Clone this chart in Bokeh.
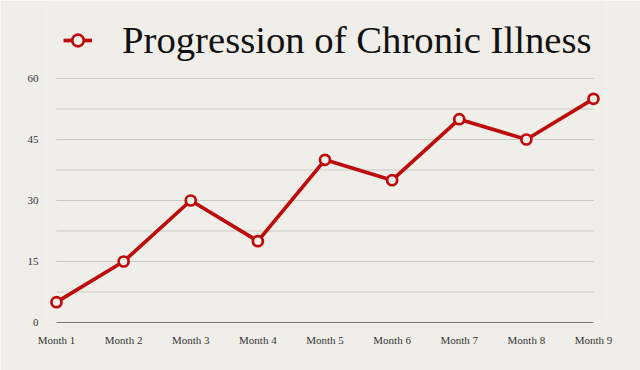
from bokeh.plotting import figure
from bokeh.models import ColumnDataSource, Range1d, FixedTicker, Legend, LegendItem
from bokeh.embed import file_html
from bokeh.resources import INLINE

months = ["Month 1", "Month 2", "Month 3", "Month 4", "Month 5",
          "Month 6", "Month 7", "Month 8", "Month 9"]
values = [5, 15, 30, 20, 40, 35, 50, 45, 55]
y_ticks = [0, 15, 30, 45, 60]
grid_levels = [0, 7.5, 15, 22.5, 30, 37.5, 45, 52.5, 60]
title_text = "Progression of Chronic Illness"

BG = "#f0eee9"
RED = "#bd0c0c"
SERIF = "Liberation Serif"

xs = list(range(1, len(months) + 1))
src = ColumnDataSource(dict(x=xs, y=values))

# frame covers the title area too, so the legend/title is drawn inside it
p = figure(width=640, height=370,
           x_range=Range1d(0.851, 9.194), y_range=Range1d(0, 79.18),
           output_backend="svg", toolbar_location=None,
           min_border_left=46, min_border_right=34, min_border_top=0, min_border_bottom=48)
p.background_fill_color = BG
p.border_fill_color = BG
p.outline_line_color = None
p.xgrid.visible = False
p.ygrid.visible = False

gsrc = ColumnDataSource(dict(x0=[xs[0]] * len(grid_levels), x1=[xs[-1]] * len(grid_levels),
                             y=grid_levels))
p.segment(x0="x0", x1="x1", y0="y", y1="y", source=gsrc, line_color="#cbc9c4", line_width=1)

line_r = p.line("x", "y", source=src, line_color=RED, line_width=3.7)
sc_r = p.scatter("x", "y", source=src, size=10, fill_color=BG, line_color=RED, line_width=2.7)

xa = p.xaxis[0]
xa.ticker = FixedTicker(ticks=xs)
xa.major_label_overrides = {x: m for x, m in zip(xs, months)}
xa.bounds = (xs[0], xs[-1])
xa.axis_line_color = "#7d7b78"
xa.axis_line_width = 1
xa.major_tick_line_color = None
xa.minor_tick_line_color = None
xa.major_label_standoff = 5
xa.major_label_text_font = SERIF
xa.major_label_text_font_size = "11px"
xa.major_label_text_color = "#333333"

ya = p.yaxis[0]
ya.ticker = FixedTicker(ticks=y_ticks)
ya.axis_line_color = None
ya.major_tick_line_color = None
ya.minor_tick_line_color = None
ya.major_label_standoff = 2
ya.major_label_text_font = SERIF
ya.major_label_text_font_size = "11px"
ya.major_label_text_color = "#333333"

legend = Legend(items=[LegendItem(label=title_text, renderers=[line_r, sc_r])],
                location=(17, 260), orientation="horizontal",
                glyph_width=29, glyph_height=30, label_standoff=30,
                label_text_font=SERIF, label_text_font_size="38.7px",
                label_text_color="#111111",
                border_line_color=None, background_fill_alpha=0,
                margin=0, padding=0)
p.add_layout(legend)

open("out.html", "w").write(file_html(p, INLINE))
